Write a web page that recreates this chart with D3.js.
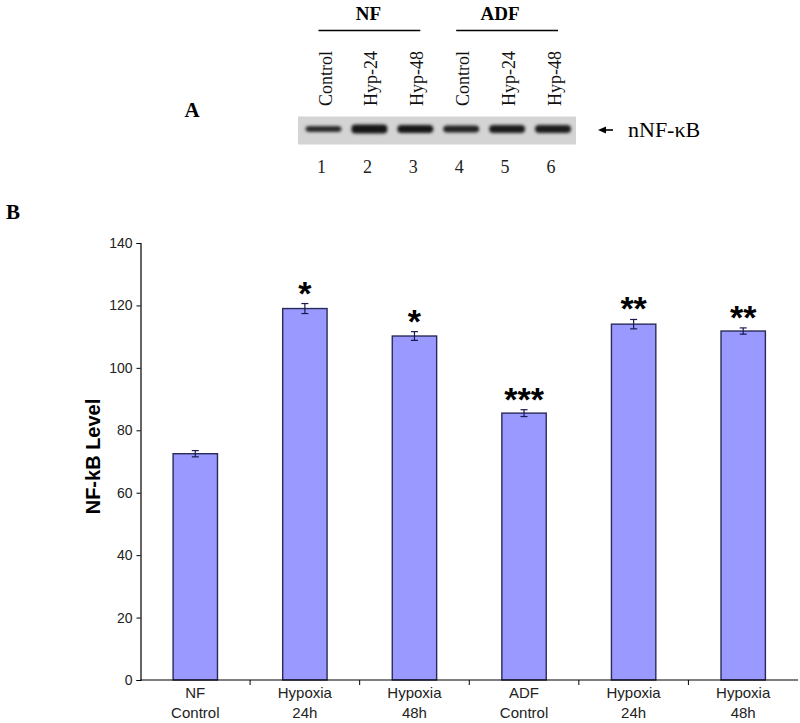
<!DOCTYPE html>
<html>
<head>
<meta charset="utf-8">
<script src="https://cdn.jsdelivr.net/npm/d3@7"></script>
<style>
  html, body { margin: 0; padding: 0; background: #fff; }
  svg { display: block; }
</style>
</head>
<body>
<svg id="chart" width="800" height="723"></svg>
<script>
// ---------- data ----------
const categories = ["NF|Control", "Hypoxia|24h", "Hypoxia|48h", "ADF|Control", "Hypoxia|24h", "Hypoxia|48h"];
const values = [72.5, 119, 110.2, 85.5, 114, 111.8];
const errors = [1.0, 1.6, 1.4, 1.1, 1.5, 1.0];
const stars = ["", "*", "*", "***", "**", "**"];
const yTicks = [0, 20, 40, 60, 80, 100, 120, 140];

const lanes = ["1", "2", "3", "4", "5", "6"];
const laneLabels = ["Control", "Hyp-24", "Hyp-48", "Control", "Hyp-24", "Hyp-48"];
const groups = ["NF", "ADF"];
const groupLanes = [["1", "3"], ["4", "6"]];
const bandThickness = [6, 9, 8, 7, 8, 8];
const bandDarkness = [0.8, 0.9, 0.88, 0.84, 0.86, 0.86];

// ---------- setup ----------
const svg = d3.select("#chart");
const serif = "'Liberation Serif', 'Times New Roman', serif";
const sans = "'Liberation Sans', Arial, sans-serif";

// ---------- panel A (blot) ----------
const lane = d3.scalePoint().domain(lanes).range([323.5, 553]);

svg.append("text").attr("x", 192).attr("y", 117).attr("text-anchor", "middle")
  .attr("font-family", serif).attr("font-weight", "bold").attr("font-size", 21).text("A");

const defs = svg.append("defs");
defs.append("filter").attr("id", "blur").attr("x", "-20%").attr("y", "-50%").attr("width", "140%").attr("height", "200%")
  .append("feGaussianBlur").attr("stdDeviation", 1.5);
defs.append("filter").attr("id", "blur2")
  .append("feGaussianBlur").attr("stdDeviation", 0.6);

svg.append("rect").attr("x", 298).attr("y", 116.5).attr("width", 278).attr("height", 28)
  .attr("fill", "#d4d4d4").attr("filter", "url(#blur2)");

svg.append("g").selectAll("rect").data(lanes).join("rect")
  .attr("x", d => lane(d) - 18)
  .attr("y", (d, i) => 129 - bandThickness[i] / 2)
  .attr("width", 36)
  .attr("height", (d, i) => bandThickness[i])
  .attr("rx", 4)
  .attr("fill", (d, i) => d3.interpolateRgb("#d4d4d4", "#000")(bandDarkness[i]))
  .attr("filter", "url(#blur)");

// lane labels (rotated)
svg.append("g").selectAll("text").data(lanes).join("text")
  .attr("transform", d => `translate(${lane(d) + 8},106) rotate(-90)`)
  .attr("font-family", serif).attr("font-size", 18).attr("fill", "#111")
  .text((d, i) => laneLabels[i]);

// lane numbers
svg.append("g").selectAll("text").data(lanes).join("text")
  .attr("x", d => lane(d) - 2).attr("y", 173).attr("text-anchor", "middle")
  .attr("font-family", serif).attr("font-size", 18).attr("fill", "#222")
  .text(d => d);

// group lines and labels
groups.forEach((g, i) => {
  const x0 = lane(groupLanes[i][0]) - 5, x1 = lane(groupLanes[i][1]) + 5;
  svg.append("line").attr("x1", x0).attr("x2", x1).attr("y1", 30.5).attr("y2", 30.5)
    .attr("stroke", "#000").attr("stroke-width", 1.3);
  svg.append("text").attr("x", (x0 + x1) / 2 - (i === 1 ? 7 : 1)).attr("y", 20).attr("text-anchor", "middle")
    .attr("font-family", serif).attr("font-weight", "bold").attr("font-size", 19).text(g);
});

// arrow + label
svg.append("path").attr("d", "M598,130 L606,126.5 L606,133.5 Z").attr("fill", "#000");
svg.append("line").attr("x1", 604).attr("x2", 613).attr("y1", 130).attr("y2", 130).attr("stroke", "#000").attr("stroke-width", 1.6);
svg.append("text").attr("x", 628).attr("y", 137).attr("font-family", serif).attr("font-size", 22).text("nNF-κB");

// ---------- panel B (bar chart) ----------
svg.append("text").attr("x", 13).attr("y", 219).attr("text-anchor", "middle")
  .attr("font-family", serif).attr("font-weight", "bold").attr("font-size", 21).text("B");

const margin = { left: 140.5, right: 798, top: 243, bottom: 680 };
const x = d3.scaleBand().domain(d3.range(categories.length)).range([margin.left, margin.right])
  .paddingInner(0.595).paddingOuter(0.2975);
const y = d3.scaleLinear().domain([0, 140]).range([margin.bottom, margin.top]);

// bars
svg.append("g").selectAll("rect").data(values).join("rect")
  .attr("x", (d, i) => x(i))
  .attr("y", d => y(d))
  .attr("width", x.bandwidth())
  .attr("height", d => y(0) - y(d))
  .attr("fill", "#9999FF")
  .attr("stroke", "#2a2a5a")
  .attr("stroke-width", 1.4);

// error bars
const eb = svg.append("g").attr("stroke", "#1a1a50").attr("stroke-width", 1.2);
values.forEach((v, i) => {
  const cx = x(i) + x.bandwidth() / 2;
  eb.append("line").attr("x1", cx).attr("x2", cx).attr("y1", y(v - errors[i])).attr("y2", y(v + errors[i]));
  eb.append("line").attr("x1", cx - 3.5).attr("x2", cx + 3.5).attr("y1", y(v - errors[i])).attr("y2", y(v - errors[i]));
  eb.append("line").attr("x1", cx - 3.5).attr("x2", cx + 3.5).attr("y1", y(v + errors[i])).attr("y2", y(v + errors[i]));
});

// significance stars
svg.append("g").selectAll("text").data(values).join("text")
  .attr("x", (d, i) => x(i) + x.bandwidth() / 2)
  .attr("y", (d, i) => y(d + errors[i]) + 1)
  .attr("text-anchor", "middle")
  .attr("font-family", sans).attr("font-weight", "bold").attr("font-size", 34)
  .text((d, i) => stars[i]);

// y axis
const yAxis = d3.axisLeft(y).tickValues(yTicks).tickSize(4).tickPadding(4);
const gy = svg.append("g").attr("transform", `translate(${margin.left},0)`).call(yAxis);
gy.select(".domain").attr("stroke", "#000").attr("stroke-width", 1.2);
gy.selectAll(".tick line").attr("stroke", "#000");
gy.selectAll(".tick text").attr("font-family", sans).attr("font-size", 14).attr("fill", "#222");

// x axis
const gx = svg.append("g").attr("transform", `translate(0,${margin.bottom})`);
gx.append("line").attr("x1", margin.left).attr("x2", margin.right).attr("y1", 0).attr("y2", 0)
  .attr("stroke", "#000").attr("stroke-width", 1.2);
gx.selectAll("line.tk").data(d3.range(1, categories.length)).join("line").attr("class", "tk")
  .attr("x1", i => x(i) - x.step() * x.paddingInner() / 2)
  .attr("x2", i => x(i) - x.step() * x.paddingInner() / 2)
  .attr("y1", 0).attr("y2", 5).attr("stroke", "#000");
const xl = gx.selectAll("text").data(categories).join("text")
  .attr("text-anchor", "middle")
  .attr("font-family", sans).attr("font-size", 15).attr("fill", "#222");
xl.append("tspan").attr("x", (d, i) => x(i) + x.bandwidth() / 2).attr("y", 18).text(d => d.split("|")[0]);
xl.append("tspan").attr("x", (d, i) => x(i) + x.bandwidth() / 2).attr("y", 38).text(d => d.split("|")[1]);

// y axis title
svg.append("text").attr("transform", `translate(100,${(margin.top + margin.bottom) / 2 - 5}) rotate(-90)`)
  .attr("text-anchor", "middle").attr("font-family", sans).attr("font-weight", "bold").attr("font-size", 20)
  .text("NF-kB Level");
</script>
</body>
</html>
